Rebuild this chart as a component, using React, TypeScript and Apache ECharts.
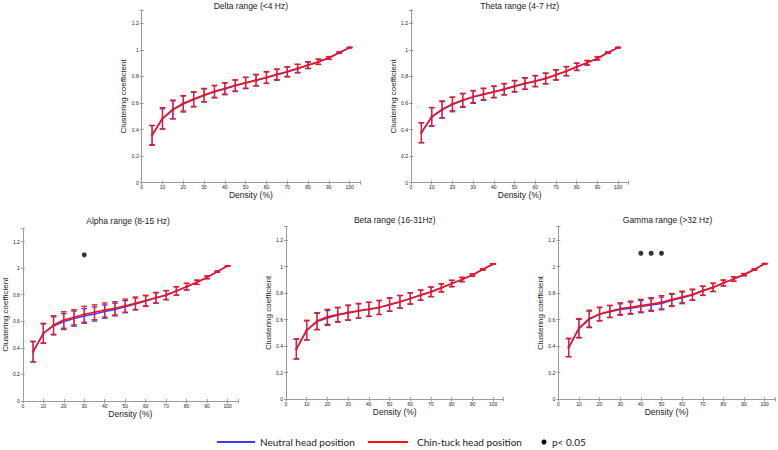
import React, { useEffect, useRef } from 'react';
import * as echarts from 'echarts';

const density = [5, 10, 15, 20, 25, 30, 35, 40, 45, 50, 55, 60, 65, 70, 75, 80, 85, 90, 95, 100];

// Delta
const deltaChin = [0.359, 0.485, 0.552, 0.598, 0.630, 0.660, 0.688, 0.710, 0.733, 0.753, 0.773, 0.793, 0.816, 0.836, 0.861, 0.886, 0.911, 0.940, 0.979, 1.017];
const deltaChinErr = [0.073, 0.080, 0.070, 0.058, 0.055, 0.050, 0.045, 0.043, 0.042, 0.041, 0.043, 0.044, 0.040, 0.036, 0.031, 0.025, 0.020, 0.010, 0.005, 0.002];
const deltaNeutral = [0.356, 0.480, 0.548, 0.592, 0.625, 0.656, 0.684, 0.706, 0.729, 0.750, 0.770, 0.790, 0.812, 0.833, 0.858, 0.883, 0.909, 0.938, 0.978, 1.017];
const deltaNeutralErr = [0.074, 0.076, 0.068, 0.060, 0.055, 0.049, 0.046, 0.044, 0.043, 0.042, 0.042, 0.043, 0.041, 0.037, 0.032, 0.025, 0.019, 0.010, 0.005, 0.002];

// Theta
const thetaChin = [0.377, 0.497, 0.552, 0.593, 0.623, 0.648, 0.668, 0.685, 0.705, 0.728, 0.748, 0.766, 0.786, 0.813, 0.841, 0.874, 0.904, 0.936, 0.979, 1.017];
const thetaChinErr = [0.075, 0.069, 0.064, 0.052, 0.050, 0.046, 0.044, 0.043, 0.042, 0.042, 0.043, 0.041, 0.040, 0.038, 0.034, 0.027, 0.017, 0.012, 0.005, 0.002];
const thetaNeutral = [0.375, 0.494, 0.548, 0.588, 0.618, 0.644, 0.664, 0.682, 0.702, 0.724, 0.744, 0.763, 0.783, 0.810, 0.838, 0.871, 0.902, 0.935, 0.978, 1.017];
const thetaNeutralErr = [0.075, 0.070, 0.062, 0.054, 0.051, 0.047, 0.044, 0.043, 0.042, 0.042, 0.042, 0.041, 0.040, 0.038, 0.034, 0.027, 0.017, 0.012, 0.005, 0.002];

// Alpha
const alphaChin = [0.372, 0.510, 0.572, 0.610, 0.630, 0.653, 0.668, 0.685, 0.698, 0.718, 0.736, 0.756, 0.778, 0.798, 0.829, 0.861, 0.894, 0.931, 0.974, 1.017];
const alphaChinErr = [0.078, 0.075, 0.070, 0.062, 0.057, 0.060, 0.056, 0.053, 0.050, 0.049, 0.047, 0.040, 0.040, 0.034, 0.032, 0.025, 0.016, 0.010, 0.005, 0.002];
const alphaNeutral = [0.370, 0.508, 0.565, 0.598, 0.620, 0.640, 0.655, 0.673, 0.688, 0.710, 0.730, 0.752, 0.775, 0.796, 0.828, 0.860, 0.893, 0.930, 0.974, 1.017];
const alphaNeutralErr = [0.076, 0.072, 0.068, 0.060, 0.057, 0.055, 0.053, 0.050, 0.048, 0.046, 0.045, 0.040, 0.039, 0.034, 0.031, 0.025, 0.016, 0.010, 0.005, 0.002];
const alphaSig = [30];

// Beta
const betaChin = [0.377, 0.521, 0.589, 0.621, 0.639, 0.654, 0.667, 0.679, 0.692, 0.714, 0.735, 0.760, 0.785, 0.810, 0.840, 0.873, 0.903, 0.936, 0.979, 1.019];
const betaChinErr = [0.075, 0.074, 0.063, 0.057, 0.054, 0.056, 0.055, 0.053, 0.053, 0.050, 0.048, 0.042, 0.038, 0.036, 0.030, 0.024, 0.016, 0.008, 0.005, 0.002];
const betaNeutral = [0.380, 0.518, 0.585, 0.612, 0.634, 0.650, 0.664, 0.676, 0.690, 0.712, 0.733, 0.758, 0.783, 0.808, 0.838, 0.871, 0.901, 0.935, 0.978, 1.019];
const betaNeutralErr = [0.075, 0.072, 0.062, 0.056, 0.054, 0.055, 0.054, 0.053, 0.052, 0.050, 0.047, 0.042, 0.038, 0.036, 0.030, 0.024, 0.016, 0.008, 0.005, 0.002];

// Gamma
const gammaChin = [0.391, 0.537, 0.608, 0.643, 0.663, 0.683, 0.693, 0.706, 0.718, 0.731, 0.751, 0.771, 0.789, 0.819, 0.844, 0.877, 0.907, 0.940, 0.978, 1.021];
const gammaChinErr = [0.069, 0.071, 0.063, 0.051, 0.045, 0.044, 0.047, 0.047, 0.048, 0.050, 0.046, 0.044, 0.041, 0.034, 0.031, 0.022, 0.017, 0.008, 0.005, 0.002];
const gammaNeutral = [0.388, 0.532, 0.602, 0.640, 0.660, 0.676, 0.686, 0.698, 0.710, 0.722, 0.745, 0.764, 0.785, 0.816, 0.842, 0.875, 0.905, 0.938, 0.977, 1.021];
const gammaNeutralErr = [0.068, 0.070, 0.062, 0.050, 0.045, 0.043, 0.045, 0.046, 0.047, 0.048, 0.046, 0.044, 0.040, 0.034, 0.031, 0.022, 0.017, 0.008, 0.005, 0.002];
const gammaSig = [40, 45, 50];

const sigLevel = 1.1;

const legendLabels = ['Neutral head position', 'Chin-tuck head position', 'p< 0.05'];

const BLUE = '#3b3bf5';
const RED = '#ff1010';
const AXIS = '#9a9a9a';

const panels = [
  { title: 'Delta range (<4 Hz)', box: [141.7, 10, 218.3, 172.7], neutral: deltaNeutral, neutralErr: deltaNeutralErr, chin: deltaChin, chinErr: deltaChinErr, sig: [] as number[] },
  { title: 'Theta range (4-7 Hz)', box: [411, 10, 217.5, 172.7], neutral: thetaNeutral, neutralErr: thetaNeutralErr, chin: thetaChin, chinErr: thetaChinErr, sig: [] as number[] },
  { title: 'Alpha range (8-15 Hz)', box: [18.3, 228.3, 219.5, 172.7], neutral: alphaNeutral, neutralErr: alphaNeutralErr, chin: alphaChin, chinErr: alphaChinErr, sig: alphaSig },
  { title: 'Beta range (16-31Hz)', box: [286, 226.7, 217.5, 172.5], neutral: betaNeutral, neutralErr: betaNeutralErr, chin: betaChin, chinErr: betaChinErr, sig: [] as number[] },
  { title: 'Gamma range (>32 Hz)', box: [558.3, 226.7, 218.5, 172.6], neutral: gammaNeutral, neutralErr: gammaNeutralErr, chin: gammaChin, chinErr: gammaChinErr, sig: gammaSig },
];

function errRender(color: string, vOpacity: number) {
  return (params: any, api: any) => {
    const x = api.value(0);
    const m = api.value(1);
    const e = api.value(2);
    const top = api.coord([x, m + e]);
    const bot = api.coord([x, m - e]);
    const w = 2.8;
    const capStyle = { stroke: color, lineWidth: 1.3 };
    return {
      type: 'group',
      children: [
        { type: 'line', shape: { x1: top[0], y1: top[1], x2: bot[0], y2: bot[1] }, style: { stroke: color, lineWidth: 1.3, opacity: vOpacity } },
        { type: 'line', shape: { x1: top[0] - w, y1: top[1], x2: top[0] + w, y2: top[1] }, style: capStyle },
        { type: 'line', shape: { x1: bot[0] - w, y1: bot[1], x2: bot[0] + w, y2: bot[1] }, style: capStyle },
      ],
    };
  };
}

function buildOption() {
  const grid: any[] = [];
  const xAxis: any[] = [];
  const yAxis: any[] = [];
  const series: any[] = [];
  const graphic: any[] = [];
  const fontFamily = '"Liberation Sans", Arial, sans-serif';

  panels.forEach((p, i) => {
    const [l, t, w, h] = p.box;
    grid.push({ left: l, top: t, width: w, height: h, show: false });
    const xBase = {
      gridIndex: i, type: 'value', min: 0, max: 105, interval: 10,
      axisLine: { show: true, lineStyle: { color: AXIS, width: 1 } },
      axisTick: { show: true, inside: true, length: 2, lineStyle: { color: AXIS } },
      splitLine: { show: false },
    };
    const yBase = {
      gridIndex: i, type: 'value', min: 0, max: 1.3, interval: 0.2,
      axisLine: { show: true, lineStyle: { color: AXIS, width: 1 } },
      axisTick: { show: true, inside: true, length: 2, lineStyle: { color: AXIS } },
      splitLine: { show: false },
    };
    xAxis.push({
      ...xBase, position: 'bottom',
      name: 'Density (%)', nameLocation: 'middle', nameGap: 8,
      nameTextStyle: { fontSize: 8.5, color: '#222', fontFamily },
      axisLabel: {
        fontSize: 5, color: '#222', margin: 2, fontFamily,
        formatter: (v: number) => (v > 100 ? '' : String(v)),
      },
    });
    xAxis.push({ ...xBase, position: 'top', axisLabel: { show: false } });
    yAxis.push({
      ...yBase, position: 'left',
      name: 'Clustering coefficient', nameLocation: 'middle', nameGap: 11,
      nameTextStyle: { fontSize: 8, color: '#222', fontFamily },
      axisLabel: {
        fontSize: 5, color: '#222', margin: 3, fontFamily,
        formatter: (v: number) => (v > 1.25 ? '' : String(+v.toFixed(1))),
      },
    });
    yAxis.push({ ...yBase, position: 'right', axisLabel: { show: false } });

    const xi = 2 * i;
    const yi = 2 * i;
    series.push({
      type: 'custom', name: 'Neutral error', xAxisIndex: xi, yAxisIndex: yi,
      renderItem: errRender(BLUE, 0.9),
      data: density.map((d, k) => [d, p.neutral[k], p.neutralErr[k]]),
      silent: true,
    });
    series.push({
      type: 'line', name: legendLabels[0], xAxisIndex: xi, yAxisIndex: yi,
      data: density.map((d, k) => [d, p.neutral[k]]),
      showSymbol: false, lineStyle: { color: BLUE, width: 1.5 }, itemStyle: { color: BLUE },
    });
    series.push({
      type: 'custom', name: 'Chin-tuck error', xAxisIndex: xi, yAxisIndex: yi,
      renderItem: errRender(RED, 0.85),
      data: density.map((d, k) => [d, p.chin[k], p.chinErr[k]]),
      silent: true,
    });
    series.push({
      type: 'line', name: legendLabels[1], xAxisIndex: xi, yAxisIndex: yi,
      data: density.map((d, k) => [d, p.chin[k]]),
      symbol: 'circle', symbolSize: 2.5, showSymbol: true,
      lineStyle: { color: RED, width: 1.5 }, itemStyle: { color: RED },
    });
    if (p.sig.length) {
      series.push({
        type: 'scatter', name: legendLabels[2], xAxisIndex: xi, yAxisIndex: yi,
        data: p.sig.map((d) => [d, sigLevel]),
        symbol: 'circle', symbolSize: 5, itemStyle: { color: '#000' },
      });
    }
    graphic.push({
      type: 'text', x: l + w / 2, y: Math.max(t - 7, 5.5),
      style: { text: p.title, fontSize: 8.5, fill: '#222', fontFamily, textAlign: 'center', textVerticalAlign: 'middle' },
    });
  });

  const ly = 442;
  const lf = 'Lato, "Open Sans", sans-serif';
  graphic.push(
    { type: 'line', shape: { x1: 217, y1: ly, x2: 255, y2: ly }, style: { stroke: BLUE, lineWidth: 2 } },
    { type: 'text', x: 260, y: ly, style: { text: legendLabels[0], fontSize: 10, fill: '#222', fontFamily: lf, textVerticalAlign: 'middle' } },
    { type: 'line', shape: { x1: 368, y1: ly, x2: 408, y2: ly }, style: { stroke: RED, lineWidth: 2 } },
    { type: 'text', x: 417, y: ly, style: { text: legendLabels[1], fontSize: 10, fill: '#222', fontFamily: lf, textVerticalAlign: 'middle' } },
    { type: 'circle', shape: { cx: 544, cy: ly, r: 2.5 }, style: { fill: '#000' } },
    { type: 'text', x: 552, y: ly, style: { text: legendLabels[2], fontSize: 10, fill: '#222', fontFamily: lf, textVerticalAlign: 'middle' } },
  );

  return {
    animation: false,
    backgroundColor: '#ffffff',
    grid, xAxis, yAxis, series, graphic,
  };
}

export default function App() {
  const ref = useRef<HTMLDivElement>(null);
  useEffect(() => {
    document.body.style.margin = '0';
    if (!ref.current) return;
    const chart = echarts.init(ref.current, undefined, { renderer: 'svg' });
    chart.setOption(buildOption() as any);
    return () => chart.dispose();
  }, []);
  return <div ref={ref} style={{ width: 778, height: 450, position: 'absolute', left: 0, top: 0 }} />;
}
